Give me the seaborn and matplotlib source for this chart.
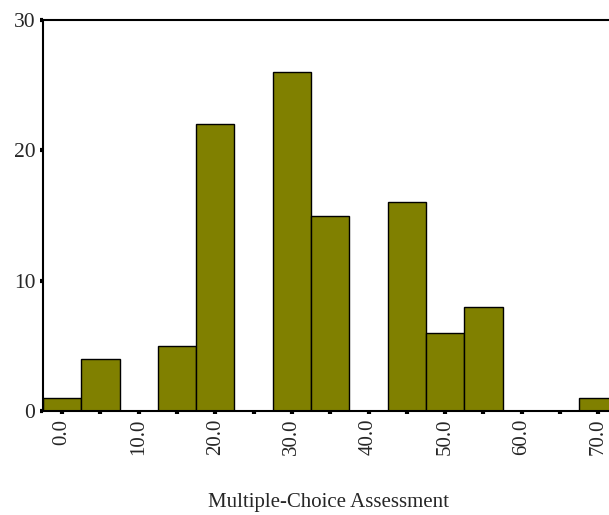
import matplotlib
matplotlib.use("Agg")
import matplotlib.pyplot as plt
import seaborn as sns
import pandas as pd

bin_centers = [0, 5, 10, 15, 20, 25, 30, 35, 40, 45, 50, 55, 60, 65, 70]
counts = [1, 4, 0, 5, 22, 0, 26, 15, 0, 16, 6, 8, 0, 0, 1]
y_ticks = [0, 10, 20, 30]
x_label = "Multiple-Choice Assessment"

sns.set_style("white")
plt.rcParams['font.family'] = ['Liberation Serif', 'DejaVu Serif']

df = pd.DataFrame({"score": bin_centers, "n": counts})

fig = plt.figure(figsize=(6.09, 5.15), dpi=100)
ax = fig.add_axes([43/609, 104/515, 1 - 43/609, (411-20)/515])

sns.histplot(data=df, x="score", weights="n", binwidth=5, binrange=(-2.5, 72.5),
             color="#808000", edgecolor="black", linewidth=1.0, alpha=1, ax=ax)

ax.set_xlim(-2.5, 71.4)
ax.set_ylim(0, 30)

ax.set_xticks(bin_centers)
labels = [f"{c:.1f}" if c % 10 == 0 else "" for c in bin_centers]
ax.set_xticklabels(labels, rotation=90, fontsize=15)
ax.set_yticks(y_ticks)
ax.set_yticklabels([str(v) for v in y_ticks], fontsize=15.5)

ax.tick_params(axis='both', which='major', direction='out', length=2.5, width=3, color='black', pad=3,
               bottom=True, left=True)
ax.set_xlabel(x_label, fontsize=15, va='center')
ax.xaxis.set_label_coords(0.505, (411 - 502) / 391)
ax.set_ylabel("")

for s in ["left", "bottom", "top"]:
    ax.spines[s].set_visible(True)
    ax.spines[s].set_color("black")
    ax.spines[s].set_linewidth(1.5)
ax.spines["right"].set_visible(False)

fig.savefig("out.png", dpi=100)
